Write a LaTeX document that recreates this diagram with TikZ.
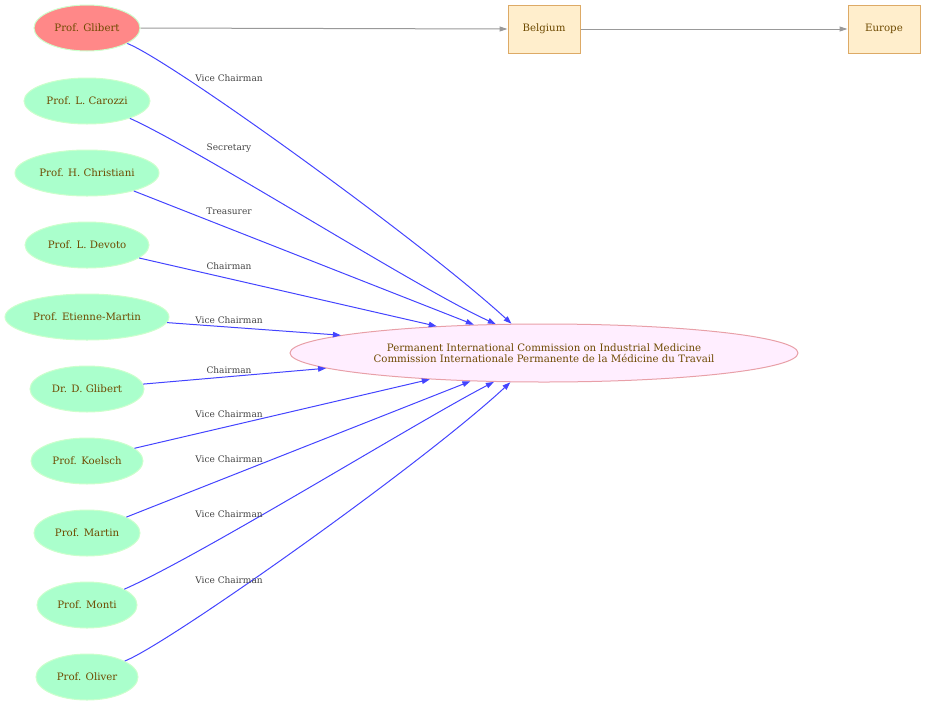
\documentclass[tikz,border=0pt]{standalone}
\usepackage{fontspec}
\setmainfont{DejaVu Serif}
\usetikzlibrary{arrows.meta,shapes.geometric}
\definecolor{txt}{HTML}{6E4A00}
\definecolor{lbl}{HTML}{444444}
\definecolor{gfill}{HTML}{AAFFCC}
\definecolor{gline}{HTML}{CCFFCC}
\definecolor{rfill}{HTML}{FF8888}
\definecolor{cfill}{HTML}{FFEEFF}
\definecolor{cline}{HTML}{E8A0A8}
\definecolor{bfill}{HTML}{FFEECC}
\definecolor{bline}{HTML}{DDAA66}
\definecolor{blueedge}{HTML}{4444FF}
\definecolor{grayedge}{HTML}{999999}
\tikzset{
  person/.style={ellipse, draw=gline, fill=gfill, line width=1pt, inner sep=0pt, minimum height=46pt, text=txt, font=\fontsize{10.2}{12}\selectfont},
  boss/.style={person, fill=rfill},
  org/.style={ellipse, draw=cline, fill=cfill, line width=1pt, inner sep=0pt, minimum width=508pt, minimum height=58pt, text=txt, align=center, font=\fontsize{10.2}{11.5}\selectfont},
  place/.style={rectangle, draw=bline, fill=bfill, line width=1pt, minimum width=72pt, minimum height=48pt, text=txt, font=\fontsize{10.2}{12}\selectfont},
  role/.style={blueedge, line width=1pt, -{Triangle[length=8pt,width=5.5pt]}},
  loc/.style={grayedge, line width=1pt, -{Triangle[length=8pt,width=5pt]}},
  elabel/.style={text=lbl, font=\fontsize{9}{10}\selectfont, inner sep=0pt},
}
\begin{document}
\begin{tikzpicture}[x=1pt,y=-1pt]
\useasboundingbox (0,0) rectangle (925,707);
% nodes
\node[boss, minimum width=106pt] (gl) at (87,28) {Prof. Glibert};
\node[person, minimum width=126pt] (ca) at (87,101) {Prof. L. Carozzi};
\node[person, minimum width=144pt] (ch) at (87,173) {Prof. H. Christiani};
\node[person, minimum width=124pt] (de) at (87,245) {Prof. L. Devoto};
\node[person, minimum width=164pt] (et) at (87,317) {Prof. Etienne-Martin};
\node[person, minimum width=114pt] (dg) at (87,389) {Dr. D. Glibert};
\node[person, minimum width=112pt] (ko) at (87,461) {Prof. Koelsch};
\node[person, minimum width=106pt] (ma) at (87,533) {Prof. Martin};
\node[person, minimum width=100pt] (mo) at (87,605) {Prof. Monti};
\node[person, minimum width=102pt] (ol) at (87,677) {Prof. Oliver};
\node[org] (c) at (544,353) {Permanent International Commission on Industrial Medicine\\Commission Internationale Permanente de la Médicine du Travail};
\node[place] (be) at (544,29) {Belgium};
\node[place] (eu) at (884,29) {Europe};
% location edges
\draw[loc] (gl.east) -- (be.west);
\draw[loc] (be.east) -- (eu.west);
% role edges
\draw[role] (gl.-21) .. controls (170,60) and (420,240) .. (c.138.8);
\draw[role] (ca.-22) .. controls (200,150) and (420,290) .. (c.149.2);
\draw[role] (ch.-21) -- (c.158.2);
\draw[role] (de.-14) -- (c.166.1);
\draw[role] (et.-4) -- (c.175.6);
\draw[role] (dg.5) -- (c.184.7);
\draw[role] (ko.15) -- (c.193.4);
\draw[role] (ma.22) -- (c.201.1);
\draw[role] (mo.23) .. controls (200,556) and (420,420) .. (c.210.8);
\draw[role] (ol.23) .. controls (165,646) and (420,466) .. (c.221.2);
% edge labels
\node[elabel] (l1) at (229,78) {Vice Chairman};
\node[elabel] (l2) at (229,148) {Secretary};
\node[elabel] (l3) at (229,211) {Treasurer};
\node[elabel] (l4) at (229,266) {Chairman};
\node[elabel] (l5) at (229,320) {Vice Chairman};
\node[elabel] (l6) at (229,370) {Chairman};
\node[elabel] (l7) at (229,414) {Vice Chairman};
\node[elabel] (l8) at (229,459) {Vice Chairman};
\node[elabel] (l9) at (229,514) {Vice Chairman};
\node[elabel] (l10) at (229,580) {Vice Chairman};
\end{tikzpicture}
\end{document}
